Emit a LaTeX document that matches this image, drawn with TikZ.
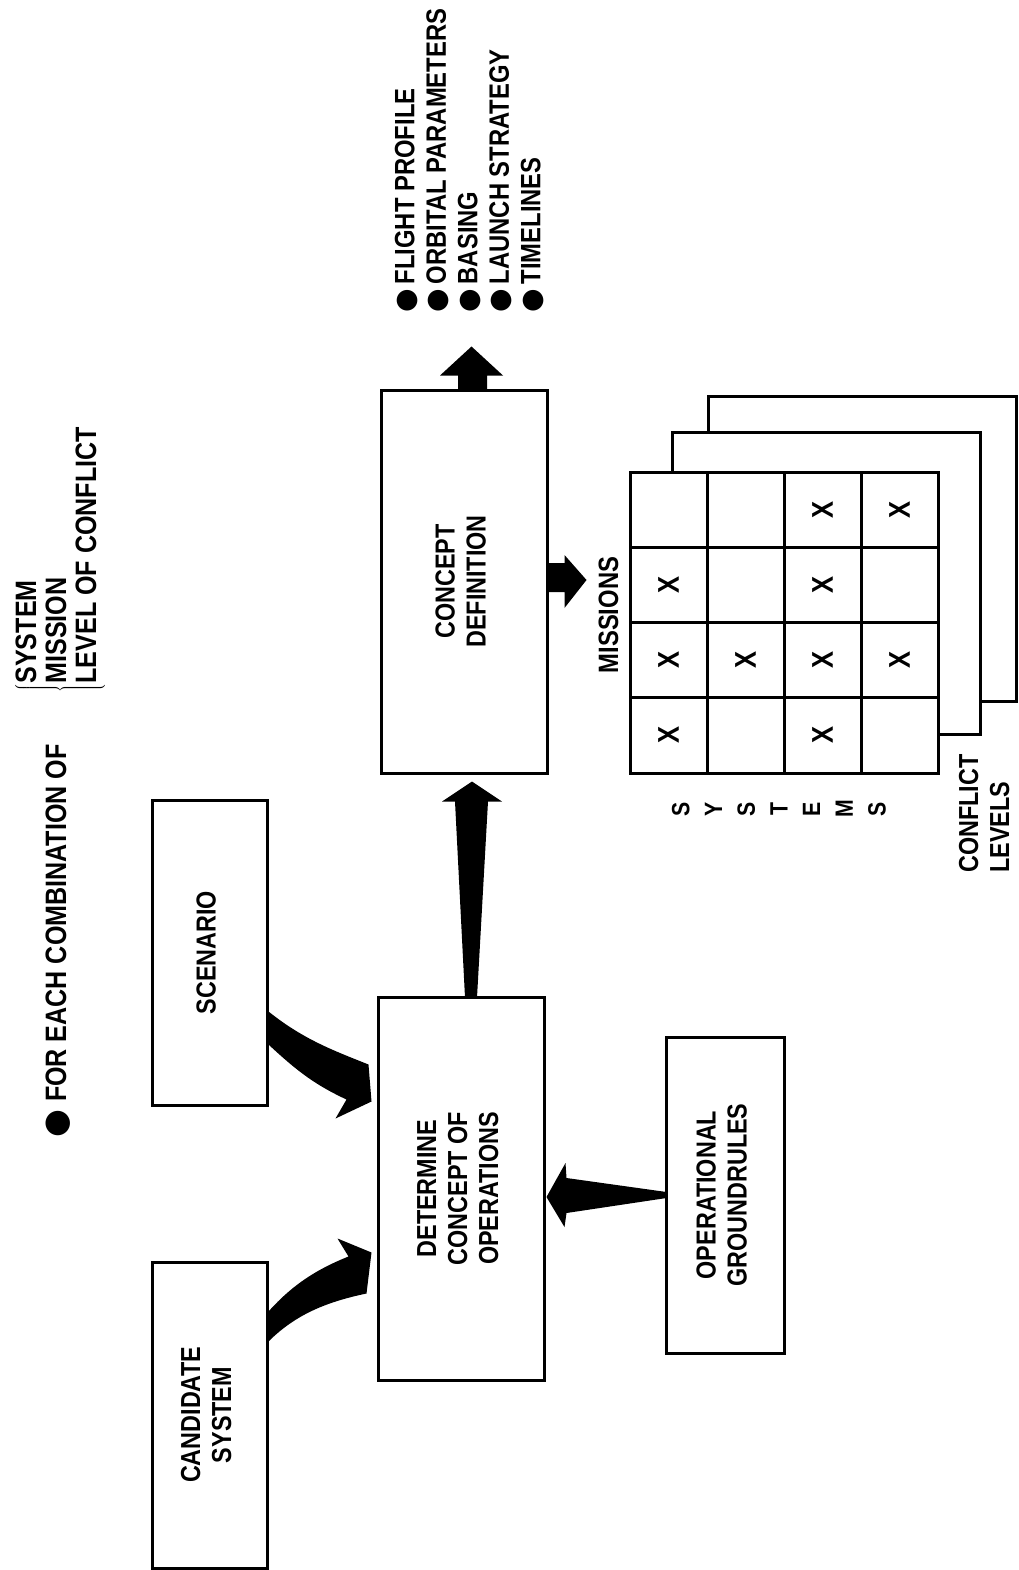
\documentclass[tikz,border=0pt]{standalone}
\usepackage{graphicx}
\usepackage{fontspec}
\setmainfont{Liberation Sans}[FakeStretch=0.85]
\newfontfamily\symfont{DejaVu Sans}
\usepackage{tikz}
\usetikzlibrary{calc,backgrounds}
\newcommand{\vtext}[1]{\rotatebox{90}{\begin{tabular}{@{}c@{}}#1\end{tabular}}}
\newcommand{\vtextl}[1]{\rotatebox{90}{\begin{tabular}{@{}l@{}}#1\end{tabular}}}
\newcommand{\bul}[1]{\smash{{\symfont\fontsize{#1}{#1}\selectfont ●}}}

\begin{document}
\begin{tikzpicture}[
  x=1pt, y=-1pt,
  font=\bfseries\fontsize{27.5}{31}\selectfont,
  box/.style={draw, line width=3pt, fill=white, inner sep=0pt},
  cellbox/.style={box, minimum width=77pt, minimum height=75.25pt},
  lbl/.style={inner sep=0pt},
  fat/.style={fill=black},
]
\useasboundingbox (0,0) rectangle (1018,1570);
% blocks
\node[box, minimum width=115pt, minimum height=306pt] (cand) at (209.5,1415) {\vtext{CANDIDATE\\SYSTEM}};
\node[box, minimum width=115pt, minimum height=305pt] (scen) at (209.5,952.5) {\vtext{SCENARIO}};
\node[box, minimum width=166pt, minimum height=383pt] (det) at (461,1188.5) {\vtext{DETERMINE\\CONCEPT OF\\OPERATIONS}};
\node[box, minimum width=118pt, minimum height=316pt] (og) at (725,1195) {\vtext{OPERATIONAL\\GROUNDRULES}};
\node[box, minimum width=166pt, minimum height=383pt] (conc) at (464,581.5) {\vtext{CONCEPT\\DEFINITION}};
% conflict level sheets + systems/missions grid
\node[box, minimum width=308pt, minimum height=305pt] (lvl2) at (862,548.5) {};
\node[box, minimum width=308pt, minimum height=302pt] (lvl1) at (826,583.5) {};
\foreach \r in {1,...,4}
  \foreach \c in {1,...,4}
    \node[cellbox] (c\r\c) at ({591.5+77*\c},{434.375+75.25*\r}) {};
\foreach \r/\c in {1/3,1/4,2/1,2/3,3/1,3/2,3/3,3/4,4/1,4/3}
  \node[lbl, font=\bfseries\fontsize{30}{30}\selectfont] at (c\r\c) {\rotatebox{90}{X}};
\node[lbl, font=\bfseries\fontsize{28}{31}\selectfont] (mis) at (612,615) {\vtext{MISSIONS}};
\node[lbl, font=\bfseries\fontsize{25}{32.7}\selectfont] (sys) at (781,809) {\vtext{S\\Y\\S\\T\\E\\M\\S}};
\node[lbl, anchor=south] (cl) at (987.5,873) {\vtextl{CONFLICT\\LEVELS}};
% outputs of concept definition
\node[lbl, anchor=south, font=\bfseries\fontsize{28}{31.5}\selectfont] (outs) at (471,313)
  {\vtextl{\bul{27}\hspace{5pt}FLIGHT PROFILE\\\bul{27}\hspace{5pt}ORBITAL PARAMETERS\\\bul{27}\hspace{5pt}BASING\\\bul{27}\hspace{5pt}LAUNCH STRATEGY\\\bul{27}\hspace{5pt}TIMELINES}};
% note
\node[lbl, anchor=south, font=\bfseries\fontsize{29.5}{30}\selectfont] (note) at (60,1138)
  {\rotatebox{90}{\bul{32}\hspace{8pt}FOR EACH COMBINATION OF\hspace{52pt}$\left\{\begin{tabular}{@{}l@{}}SYSTEM\\MISSION\\LEVEL OF CONFLICT\end{tabular}\right.$}};
% fat arrows
\begin{scope}[on background layer]
\fill[fat] ($(scen.south east)+(0,-95)$) .. controls +(35,28) and +(-35,-14) .. ($(det.north west)+(-8,69)$)
  -- ($(det.north west)+(-5,106)$) -- ($(det.north west)+(-41,123)$) -- ($(det.north west)+(-30,104)$)
  .. controls +(-30,-14) and +(30,28) .. ($(scen.south east)+(0,-62)$) -- cycle;
\fill[fat] ($(cand.north east)+(0,51)$) .. controls +(25,-28) and +(-30,12) .. ($(det.south west)+(-28,-125)$)
  -- ($(det.south west)+(-39,-143)$) -- ($(det.south west)+(-5,-129)$) -- ($(det.south west)+(-10,-88)$)
  .. controls +(-38,8) and +(28,-28) .. ($(cand.north east)+(0,81)$) -- cycle;
\fill[fat] ($(det.north)+(4,2)$) -- ($(conc.south)+(-9,27)$) -- ($(conc.south)+(-22,27)$) -- ($(conc.south)+(8,7)$)
  -- ($(conc.south)+(38,27)$) -- ($(conc.south)+(24,27)$) -- ($(det.north)+(16,2)$) -- cycle;
\fill[fat] ($(conc.north)+(-6,2)$) -- ($(conc.north)+(-6,-13)$) -- ($(conc.north)+(-24,-13)$) -- ($(conc.north)+(7.5,-42)$)
  -- ($(conc.north)+(39,-13)$) -- ($(conc.north)+(23,-13)$) -- ($(conc.north)+(23,2)$) -- cycle;
\fill[fat] ($(conc.east)+(-2,-18.5)$) -- ($(conc.east)+(16,-18.5)$) -- ($(conc.east)+(16,-26.5)$) -- ($(conc.east)+(38,-1.5)$)
  -- ($(conc.east)+(16,26.5)$) -- ($(conc.east)+(16,10.5)$) -- ($(conc.east)+(-2,10.5)$) -- cycle;
\coordinate (gd) at (det.east |- og.west);
\fill[fat] ($(og.west)+(2,-3)$) -- ($(gd)+(21,-17)$) -- ($(gd)+(20,-32)$) -- ($(gd)+(1,2)$)
  -- ($(gd)+(19,32)$) -- ($(gd)+(21,18)$) -- ($(og.west)+(2,3)$) -- cycle;
\end{scope}
\end{tikzpicture}
\end{document}
